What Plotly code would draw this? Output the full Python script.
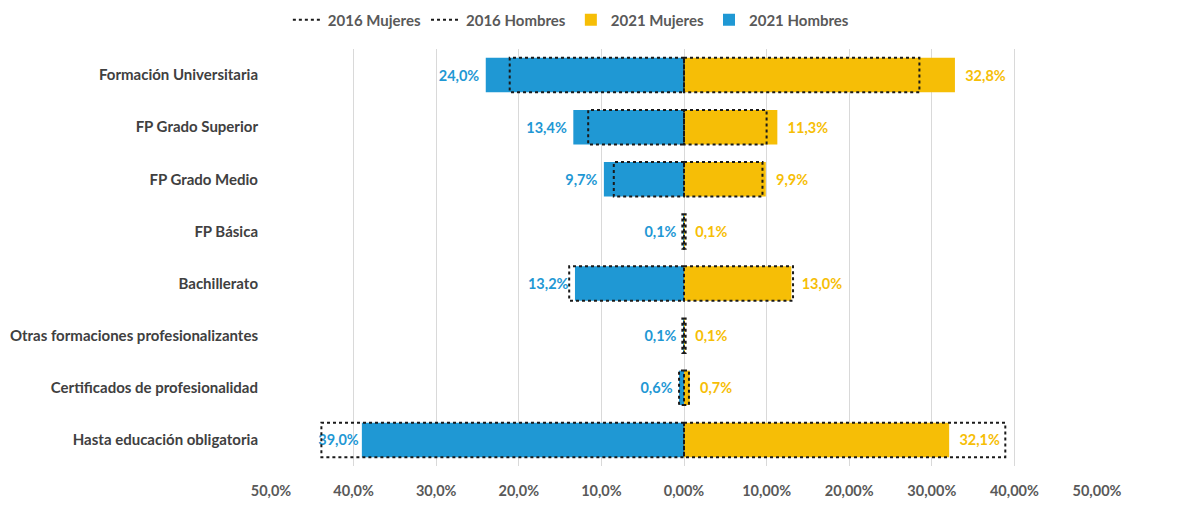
import plotly.graph_objects as go

categorias = ["Formación Universitaria", "FP Grado Superior", "FP Grado Medio",
              "FP Básica", "Bachillerato", "Otras formaciones profesionalizantes",
              "Certificados de profesionalidad", "Hasta educación obligatoria"]

hombres_2021 = [24.0, 13.4, 9.7, 0.1, 13.2, 0.1, 0.6, 39.0]
mujeres_2021 = [32.8, 11.3, 9.9, 0.1, 13.0, 0.1, 0.7, 32.1]
hombres_2016 = [21.1, 11.6, 8.5, 0.2, 13.9, 0.2, 0.6, 43.9]
mujeres_2016 = [28.5, 10.0, 9.5, 0.2, 13.2, 0.2, 0.6, 38.9]

tick_vals = [-50, -40, -30, -20, -10, 0, 10, 20, 30, 40, 50]
tick_text = ["50,0%", "40,0%", "30,0%", "20,0%", "10,0%", "0,00%",
             "10,00%", "20,00%", "30,00%", "40,00%", "50,00%"]

AZUL = "#1F98D4"
AMARILLO = "#F6BE06"
ancho = 0.66
pos = list(range(len(categorias)))


def fmt(v):
    return f"{v:.1f}%".replace(".", ",")


def cajas(valores, signo):
    # rectángulos punteados a partir de los valores 2016
    xs, ys = [], []
    for i, v in zip(pos, valores):
        x = signo * v
        y0, y1 = i - ancho / 2, i + ancho / 2
        xs += [0, x, x, 0, 0, None]
        ys += [y0, y0, y1, y1, y0, None]
    return xs, ys


# etiqueta pegada a la barra cuando la caja 2016 deja poco hueco
txt_h = [fmt(v) + ("" if v16 - v > 3 else "\u00a0")
         for v, v16 in zip(hombres_2021, hombres_2016)]
txt_m = ["\u2002" + fmt(v) for v in mujeres_2021]

fig = go.Figure()

fig.add_trace(go.Bar(
    y=pos, x=mujeres_2021, orientation="h", name="2021 Mujeres",
    marker=dict(color=AMARILLO, line=dict(width=0)), width=ancho,
    text=txt_m, textposition="outside",
    textfont=dict(color=AMARILLO, size=14.5, family="Lato", weight="bold"),
    cliponaxis=False, legendrank=3,
))
fig.add_trace(go.Bar(
    y=pos, x=[-v for v in hombres_2021], orientation="h", name="2021 Hombres",
    marker=dict(color=AZUL, line=dict(width=0)), width=ancho,
    text=txt_h, textposition="outside",
    textfont=dict(color=AZUL, size=14.5, family="Lato", weight="bold"),
    cliponaxis=False, legendrank=4,
))

xm, ym = cajas(mujeres_2016, 1)
fig.add_trace(go.Scatter(
    x=xm, y=ym, mode="lines", name="2016 Mujeres",
    line=dict(color="#1a1a1a", width=2, dash="dot"),
    hoverinfo="skip", legendrank=1,
))
xh, yh = cajas(hombres_2016, -1)
fig.add_trace(go.Scatter(
    x=xh, y=yh, mode="lines", name="2016 Hombres",
    line=dict(color="#1a1a1a", width=2, dash="dot"),
    hoverinfo="skip", legendrank=2,
))

# la página añade 8 px de margen al cuerpo, se compensa aquí
fig.update_layout(
    width=1180, height=505,
    barmode="overlay",
    plot_bgcolor="white", paper_bgcolor="white",
    margin=dict(l=263, r=91, t=41, b=47, autoexpand=False),
    font=dict(family="Lato", size=14, color="#595959"),
    legend=dict(orientation="h", xref="container", yref="container",
                x=0.477, xanchor="center", y=1 - 12 / 505, yanchor="middle",
                font=dict(size=15, color="#595959", weight="bold"),
                traceorder="normal", itemwidth=30),
    showlegend=True,
)
fig.update_xaxes(
    range=[-50, 50], tickvals=tick_vals, ticktext=tick_text,
    showgrid=True, gridcolor="#D9D9D9", gridwidth=1, zeroline=False,
    showline=False, tickfont=dict(size=14.5, color="#595959", weight="bold"),
    ticks="", ticklen=0, automargin=False, ticklabelstandoff=14,
)
fig.update_yaxes(
    tickvals=pos, ticktext=categorias, range=[len(categorias) - 0.5, -0.5],
    showgrid=False, zeroline=False, showline=False, ticks="",
    tickfont=dict(size=15, color="#404040", weight="bold"),
    ticklabelstandoff=12, automargin=False,
)

fig.write_html("out.html")
